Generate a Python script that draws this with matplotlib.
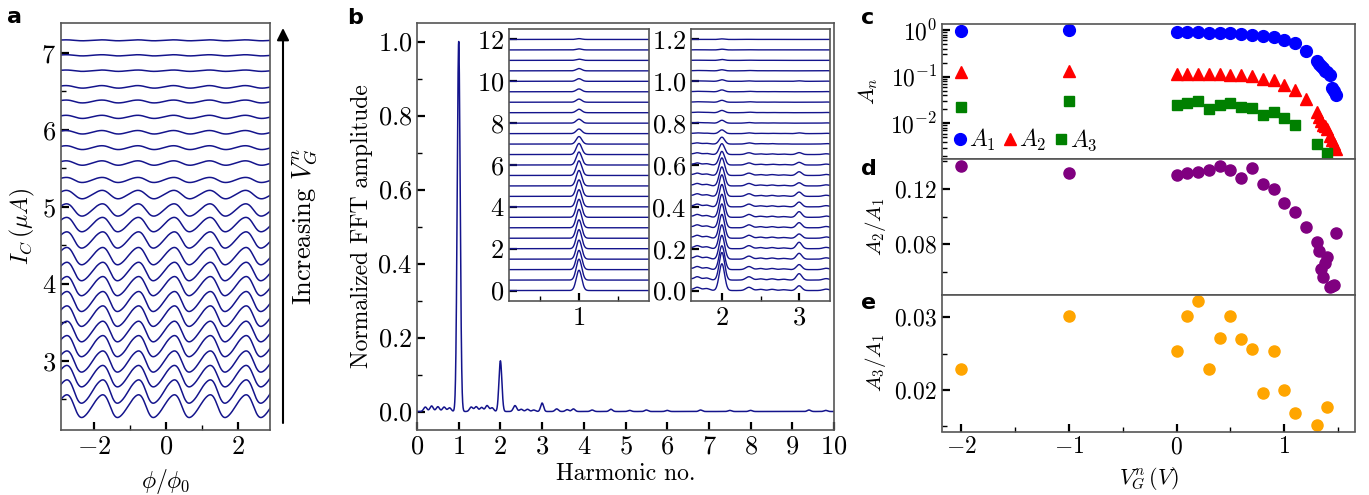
import numpy as np
import matplotlib
matplotlib.use('Agg')
from matplotlib import pyplot as plt
from matplotlib.ticker import MultipleLocator, LogLocator, NullFormatter, FixedLocator

plt.rcParams['font.family'] = 'serif'
plt.rcParams['font.serif'] = ['cmr10']
plt.rcParams['mathtext.fontset'] = 'cm'
plt.rcParams['axes.formatter.use_mathtext'] = True
plt.rcParams['font.size'] = 17

# gate voltages of the 25 measured curves (V)
vg = [-2, -1, 0, 0.1, 0.2, 0.3, 0.4, 0.5, 0.6, 0.7, 0.8, 0.9, 1.0, 1.1, 1.2,
      1.3, 1.32, 1.34, 1.36, 1.38, 1.4, 1.42, 1.44, 1.46, 1.48]
# harmonic amplitudes (panel c)
a1 = [0.97, 1.0, 0.92, 0.91, 0.91, 0.88, 0.88, 0.86, 0.82, 0.79, 0.74, 0.70,
      0.62, 0.53, 0.36, 0.22, 0.19, 0.165, 0.15, 0.135, 0.125, 0.11, 0.058,
      0.05, 0.04]
a2 = [0.128, 0.132, 0.114, 0.114, 0.114, 0.114, 0.114, 0.110, 0.107, 0.103,
      0.091, 0.084, 0.065, 0.052, 0.033, 0.0178, 0.0139, 0.0109, 0.0092,
      0.0089, 0.0075, 0.0052, 0.0044, 0.0036, 0.0028]
a3 = [0.0228, 0.0306, 0.024, 0.0278, 0.0306, 0.0204, 0.0245, 0.027, 0.0228,
      0.0207, 0.0151, 0.0178, 0.0128, 0.0092, np.nan, 0.0035, np.nan, np.nan,
      np.nan, np.nan, 0.0023, np.nan, np.nan, np.nan, np.nan]
# ratios (panels d, e)
r21 = [0.137, 0.1316, 0.1304, 0.1316, 0.1324, 0.1341, 0.137, 0.1341, 0.1282,
       0.1353, 0.1236, 0.12, 0.1098, 0.103, 0.0928, 0.0819, 0.0751, 0.062,
       0.0565, 0.0662, 0.071, 0.0487, 0.0497, 0.0505, 0.088]
vg_e = [-2, -1, 0, 0.1, 0.2, 0.3, 0.4, 0.5, 0.6, 0.7, 0.8, 0.9, 1.0, 1.1, 1.3, 1.4]
r31 = [0.0229, 0.0302, 0.0254, 0.0302, 0.0322, 0.0228, 0.0272, 0.0302, 0.0270,
       0.0256, 0.0195, 0.0253, 0.0199, 0.0168, 0.0151, 0.0176]

# mean critical current of each curve in panel a (uA)
ic_mean = [2.41, 2.60, 2.80, 2.99, 3.19, 3.38, 3.58, 3.77, 3.97, 4.16, 4.36,
           4.57, 4.77, 4.96, 5.16, 5.35, 5.57, 5.77, 5.97, 6.17, 6.37, 6.56,
           6.77, 6.97, 7.165]

# small side bumps of the FFT spectrum: harmonic no. and height
bump_pos = [0.2, 0.35, 0.5, 0.65, 0.78, 1.3, 1.42, 1.55, 1.68, 1.8, 2.35, 2.5,
            2.65, 2.8, 3.35, 3.6, 3.75, 4.2, 4.65, 5.1, 5.5, 6.0, 6.8, 7.5,
            8.0, 9.4, 9.8]
bump_amp = [0.012, 0.015, 0.013, 0.012, 0.010, 0.012, 0.013, 0.011, 0.016,
            0.010, 0.016, 0.006, 0.006, 0.004, 0.007, 0.005, 0.007, 0.004,
            0.006, 0.003, 0.004, 0.003, 0.004, 0.003, 0.003, 0.004, 0.003]

line_c = '#14148c'
W, H = 1369, 495


def box(l, t, r, b):
    return [l / W, 1 - b / H, (r - l) / W, (b - t) / H]


def peak(x, c, w=0.035):
    return np.exp(-0.5 * ((x - c) / w) ** 2)


def spectrum(x, h1, h2, h3, noise):
    y = h1 * peak(x, 1) + h2 * peak(x, 2) + np.nan_to_num(h3) * peak(x, 3)
    for p, a in zip(bump_pos, bump_amp):
        y = y + noise * a * peak(x, p, 0.04)
    return y


def style(ax, size=19):
    for s in ax.spines.values():
        s.set_edgecolor('#555555')
        s.set_linewidth(1.2)
    ax.tick_params(which='both', direction='in', top=False, right=False,
                   labelsize=size)
    ax.tick_params(which='major', length=6, width=1.6)
    ax.tick_params(which='minor', length=3.5, width=1.0)


fig = plt.figure(figsize=(W / 100, H / 100), dpi=100)

# ---- panel a
ax = fig.add_axes(box(61, 23, 270, 430))
phi = np.linspace(-2.93, 2.9, 600)
x = 2 * np.pi * (phi + 0.06)
for i in range(len(ic_mean)):
    wave = a1[i] * np.sin(x) - a2[i] * np.sin(2 * x) + np.nan_to_num(a3[i]) * np.sin(3 * x)
    ax.plot(phi, ic_mean[i] + 0.15 * wave, color=line_c, lw=1.1)
ax.set_xlim(-2.93, 2.9)
ax.set_ylim(2.1, 7.39)
ax.xaxis.set_major_locator(MultipleLocator(2))
ax.xaxis.set_minor_locator(MultipleLocator(1))
ax.yaxis.set_major_locator(MultipleLocator(1))
ax.yaxis.set_minor_locator(MultipleLocator(0.5))
style(ax)
ax.set_xlabel(r'$\phi/\phi_0$')
ax.set_ylabel(r'$I_C\,(\mu A)$')
ax.xaxis.set_label_coords(0.5, -0.09)
ax.yaxis.set_label_coords(-0.115, 0.5)
ax.annotate('', xy=(283 / W, 1 - 28 / H), xytext=(283 / W, 1 - 423 / H),
            xycoords='figure fraction', textcoords='figure fraction',
            arrowprops=dict(arrowstyle='-|>', color='k', lw=1.5,
                            mutation_scale=18, shrinkA=0, shrinkB=0))
fig.text(305 / W, 1 - 227 / H, r'Increasing $V_G^n$', rotation=90,
         ha='center', va='center', fontsize=19)

# ---- panel b
ax = fig.add_axes(box(417, 23, 834, 430))
h = np.linspace(0, 10, 4000)
ax.plot(h, spectrum(h, 1.0, r21[0], r31[0], 1.0), color=line_c, lw=1.1)
ax.set_xlim(0, 10)
ax.set_ylim(-0.05, 1.05)
ax.xaxis.set_major_locator(MultipleLocator(1))
ax.yaxis.set_major_locator(MultipleLocator(0.2))
ax.yaxis.set_minor_locator(MultipleLocator(0.1))
style(ax)
ax.set_xlabel('Harmonic no.')
ax.set_ylabel('Normalized FFT amplitude')
ax.xaxis.set_label_coords(0.5, -0.08)
ax.yaxis.set_label_coords(-0.105, 0.5)

ins1 = fig.add_axes(box(509, 29, 649, 301))
ins2 = fig.add_axes(box(691, 29, 830, 301))
h1 = np.linspace(0.1, 1.9, 800)
h2 = np.linspace(1.6, 3.4, 800)
for i in range(len(a1)):
    ins1.plot(h1, 0.5 * i + spectrum(h1, a1[i], 0, 0, 0), color=line_c, lw=1.0)
    ins2.plot(h2, 0.05 * i + spectrum(h2, 0, a2[i], a3[i], a1[i]), color=line_c, lw=1.0)
ins1.set_xlim(0.1, 1.9)
ins1.set_ylim(-0.5, 12.5)
ins1.xaxis.set_major_locator(FixedLocator([1]))
ins1.xaxis.set_minor_locator(FixedLocator([0.5, 1.5]))
ins1.yaxis.set_major_locator(MultipleLocator(2))
ins2.set_xlim(1.6, 3.4)
ins2.set_ylim(-0.05, 1.25)
ins2.xaxis.set_major_locator(FixedLocator([2, 3]))
ins2.xaxis.set_minor_locator(FixedLocator([2.5]))
ins2.yaxis.set_major_locator(MultipleLocator(0.2))
for a in (ins1, ins2):
    style(a)

# ---- panels c, d, e
axc = fig.add_axes(box(942, 24, 1355, 159))
axd = fig.add_axes(box(942, 159, 1355, 295), sharex=axc)
axe = fig.add_axes(box(942, 295, 1355, 431.5), sharex=axc)

axc.semilogy(vg, a1, 'o', color='blue', ms=8.5, label=r'$A_1$')
axc.semilogy(vg, a2, '^', color='red', ms=8.5, label=r'$A_2$')
axc.semilogy(vg, a3, 's', color='green', ms=7.5, label=r'$A_3$')
axc.set_ylim(1.7e-3, 1.35)
axc.yaxis.set_major_locator(LogLocator(base=10, numticks=10))
axc.yaxis.set_minor_locator(LogLocator(base=10, subs=np.arange(2, 10), numticks=20))
axc.yaxis.set_minor_formatter(NullFormatter())
axc.set_ylabel(r'$A_n$', fontsize=16)
axc.legend(loc='lower left', ncol=3, frameon=False, handletextpad=-0.1,
           columnspacing=0.1, handlelength=1.0, borderaxespad=0.0,
           borderpad=0.25, fontsize=17)

axd.plot(vg, r21, 'o', color='purple', ms=8)
axd.set_ylim(0.0431, 0.1418)
axd.yaxis.set_major_locator(MultipleLocator(0.04))
axd.yaxis.set_minor_locator(MultipleLocator(0.02))
axd.set_ylabel(r'$A_2/A_1$', fontsize=15)

axe.plot(vg_e, r31, 'o', color='orange', ms=8)
axe.set_ylim(0.0142, 0.0331)
axe.yaxis.set_major_locator(MultipleLocator(0.01))
axe.yaxis.set_minor_locator(MultipleLocator(0.005))
axe.set_ylabel(r'$A_3/A_1$', fontsize=15)
axe.set_xlabel(r'$V_G^n\,(V)$', fontsize=16)
axe.set_xlim(-2.176, 1.656)
axe.xaxis.set_major_locator(MultipleLocator(1))
axe.xaxis.set_minor_locator(MultipleLocator(0.5))

for a in (axc, axd, axe):
    style(a, 17)
    a.yaxis.set_label_coords(-0.13, 0.5)
axc.yaxis.set_label_coords(-0.15, 0.5)
for a in (axc, axd):
    a.tick_params(axis='x', which='both', bottom=False, labelbottom=False)
axe.xaxis.set_label_coords(0.5, -0.25)

for lab, px, py in [('a', 15, 17), ('b', 355, 18), ('c', 868, 18),
                    ('d', 869, 169), ('e', 869, 303)]:
    fig.text(px / W, 1 - py / H, lab, family='DejaVu Sans', weight='bold',
             fontsize=16, ha='center', va='center')

fig.savefig('out.png', dpi=100)
